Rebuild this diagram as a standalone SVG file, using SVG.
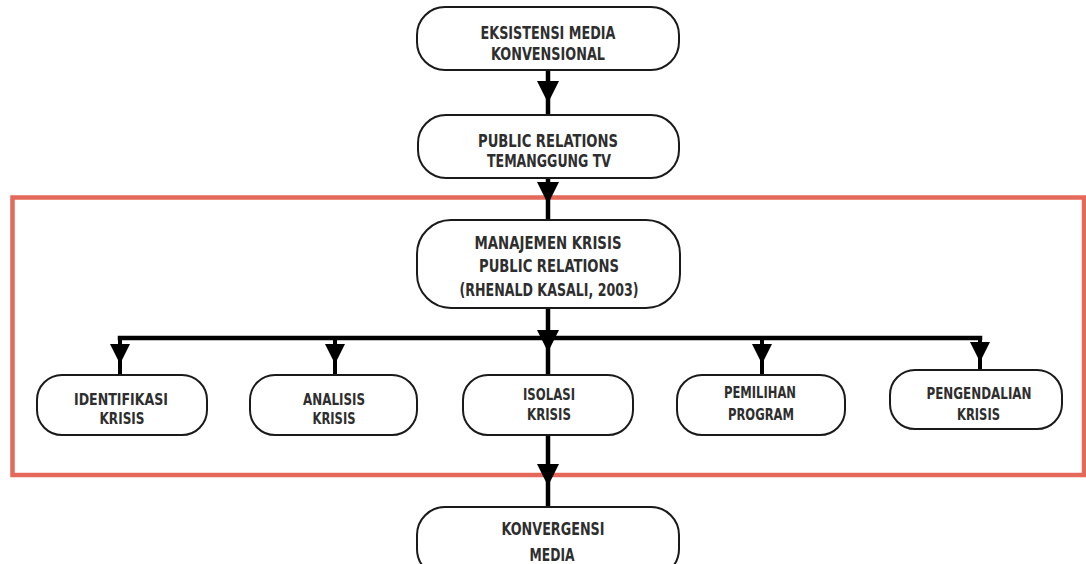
<svg xmlns="http://www.w3.org/2000/svg" width="1086" height="564" viewBox="0 0 1086 564">
  <defs>
    <style>
      .box { fill: #ffffff; stroke: #1a1a1a; stroke-width: 2; }
      .lbl { font-family: "Liberation Sans Narrow", "DejaVu Sans Condensed", "Liberation Sans", sans-serif; font-weight: bold; font-size: 17px; fill: #2e2e2e; text-anchor: middle; }
      .sm { font-size: 16px; }
      .con { fill: none; stroke: #000000; stroke-width: 4.5; }
      .br { fill: none; stroke: #000000; stroke-width: 4; }
      .frame { fill: none; stroke: #E4695A; stroke-width: 4.5; }
    </style>
    <marker id="ah" markerUnits="userSpaceOnUse" viewBox="0 0 22 22" markerWidth="22" markerHeight="22" refX="22" refY="11" orient="auto">
      <path d="M0,0 L22,11 L0,22 Z" fill="#000000"/>
    </marker>
    <marker id="ahs" markerUnits="userSpaceOnUse" viewBox="0 0 20 20" markerWidth="20" markerHeight="20" refX="20" refY="10" orient="auto">
      <path d="M0,0 L20,10 L0,20 Z" fill="#000000"/>
    </marker>
  </defs>
  <rect width="1086" height="564" fill="#ffffff"/>

  <rect class="frame" x="12.5" y="197.5" width="1071.5" height="277.5"/>

  <g id="connectors">
    <path class="con" d="M548,70 L548,103 L548,116" marker-mid="url(#ah)"/>
    <path class="con" d="M548,178 L548,204 L548,221" marker-mid="url(#ah)"/>
    <path class="con" d="M548,308 L548,352 L548,376" marker-mid="url(#ah)"/>
    <path class="con" d="M117.75,338 L982.25,338"/>
    <path class="br" d="M120,338 L120,364 L120,376" marker-mid="url(#ahs)"/>
    <path class="br" d="M335,338 L335,364 L335,376" marker-mid="url(#ahs)"/>
    <path class="br" d="M762,338 L762,364 L762,376" marker-mid="url(#ahs)"/>
    <path class="br" d="M980,338 L980,362 L980,371" marker-mid="url(#ahs)"/>
    <path class="con" d="M548,435 L548,486 L548,508" marker-mid="url(#ah)"/>
  </g>

  <g id="node-eksistensi">
    <rect class="box" x="417" y="7" width="262" height="63" rx="28"/>
    <text class="lbl" x="548" y="38.5" textLength="135" lengthAdjust="spacingAndGlyphs">EKSISTENSI MEDIA</text>
    <text class="lbl" x="548" y="59.5" textLength="114" lengthAdjust="spacingAndGlyphs">KONVENSIONAL</text>
  </g>

  <g id="node-pr">
    <rect class="box" x="418" y="115" width="261" height="63" rx="28"/>
    <text class="lbl" x="548" y="146.5" textLength="140" lengthAdjust="spacingAndGlyphs">PUBLIC RELATIONS</text>
    <text class="lbl" x="549" y="166.5" textLength="124" lengthAdjust="spacingAndGlyphs">TEMANGGUNG TV</text>
  </g>

  <g id="node-manajemen">
    <rect class="box" x="417" y="220" width="263" height="88" rx="34"/>
    <text class="lbl" x="548" y="248.5" textLength="147" lengthAdjust="spacingAndGlyphs">MANAJEMEN KRISIS</text>
    <text class="lbl" x="549" y="271.5" textLength="140" lengthAdjust="spacingAndGlyphs">PUBLIC RELATIONS</text>
    <text class="lbl" x="549" y="295.5" textLength="179" lengthAdjust="spacingAndGlyphs">(RHENALD KASALI, 2003)</text>
  </g>

  <g id="node-identifikasi">
    <rect class="box" x="37" y="375" width="170" height="60" rx="25"/>
    <text class="lbl sm" x="121" y="405" textLength="94" lengthAdjust="spacingAndGlyphs">IDENTIFIKASI</text>
    <text class="lbl sm" x="122" y="424" textLength="45" lengthAdjust="spacingAndGlyphs">KRISIS</text>
  </g>

  <g id="node-analisis">
    <rect class="box" x="250" y="375" width="167" height="60" rx="25"/>
    <text class="lbl sm" x="334" y="405" textLength="62" lengthAdjust="spacingAndGlyphs">ANALISIS</text>
    <text class="lbl sm" x="334" y="424" textLength="43" lengthAdjust="spacingAndGlyphs">KRISIS</text>
  </g>

  <g id="node-isolasi">
    <rect class="box" x="463" y="375" width="170" height="60" rx="25"/>
    <text class="lbl sm" x="549" y="399.5" textLength="52" lengthAdjust="spacingAndGlyphs">ISOLASI</text>
    <text class="lbl sm" x="549" y="419.5" textLength="44" lengthAdjust="spacingAndGlyphs">KRISIS</text>
  </g>

  <g id="node-pemilihan">
    <rect class="box" x="677" y="375" width="168" height="60" rx="25"/>
    <text class="lbl sm" x="760" y="398" textLength="72" lengthAdjust="spacingAndGlyphs">PEMILIHAN</text>
    <text class="lbl sm" x="761" y="420" textLength="66" lengthAdjust="spacingAndGlyphs">PROGRAM</text>
  </g>

  <g id="node-pengendalian">
    <rect class="box" x="890" y="370" width="172" height="59" rx="25"/>
    <text class="lbl sm" x="979" y="399" textLength="105" lengthAdjust="spacingAndGlyphs">PENGENDALIAN</text>
    <text class="lbl sm" x="978.5" y="420" textLength="43" lengthAdjust="spacingAndGlyphs">KRISIS</text>
  </g>

  <g id="node-konvergensi">
    <rect class="box" x="417" y="507" width="262" height="70" rx="28"/>
    <text class="lbl" x="553" y="534.5" textLength="103" lengthAdjust="spacingAndGlyphs">KONVERGENSI</text>
    <text class="lbl" x="552" y="560.5" textLength="45" lengthAdjust="spacingAndGlyphs">MEDIA</text>
  </g>
</svg>
